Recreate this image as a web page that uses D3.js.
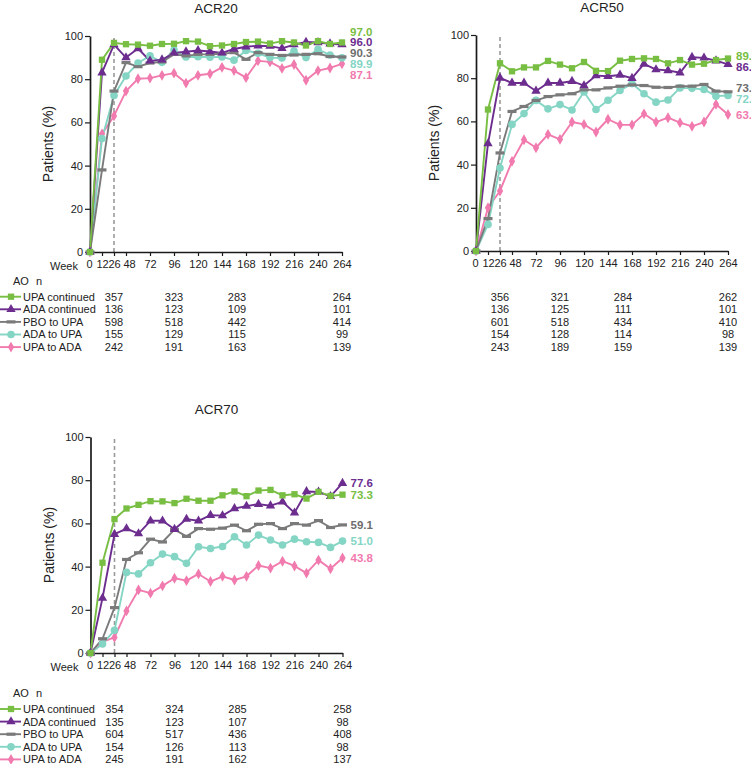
<!DOCTYPE html>
<html><head><meta charset="utf-8">
<script src="https://cdn.jsdelivr.net/npm/d3@7"></script>
<style>body{margin:0;background:#fff} svg{display:block;font-family:"Liberation Sans",Arial,sans-serif}</style>
</head><body><div id="c"></div>
<script>
// ---------- data ----------
const weeks = [0,12,26,48,60,72,84,96,108,120,132,144,156,168,180,192,204,216,228,240,252,264];
const tickWeeks = [0,12,26,48,72,96,120,144,168,192,216,240,264];
const yTicks = [0,20,40,60,80,100];
const seriesNames = ["UPA continued","ADA continued","PBO to UPA","ADA to UPA","UPA to ADA"];
const seriesColors = ["#78be43","#6c2d8f","#7a7a7a","#85d5c5","#f17aae"];
const seriesShapes = ["square","triangle","dash","circle","diamond"];
const nWeeks = [26,96,159,264];

// ACR20
const upaC20 = [0,89.0,96.8,96.2,96.0,95.5,96.3,96.4,97.6,97.4,95.3,95.6,96.3,97.2,97.4,96.5,97.6,97.0,95.6,97.6,96.3,97.0];
const adaC20 = [0,83.0,96.0,90.0,94.2,88.5,89.0,92.2,92.7,93.3,92.8,92.2,94.0,95.0,95.5,95.3,94.3,96.0,97.2,97.0,96.4,96.0];
const pbo20  = [0,38.0,74.5,87.7,85.8,87.5,88.0,91.5,90.8,91.5,91.5,91.8,92.3,89.2,92.3,91.5,91.0,91.2,91.5,91.8,90.5,90.3];
const adaU20 = [0,52.5,72.5,81.5,87.5,90.8,87.8,93.5,90.3,90.4,90.2,90.3,88.8,93.3,92.0,90.0,89.8,93.0,90.0,93.8,91.2,89.9];
const upaA20 = [0,54.7,63.0,74.5,80.2,80.5,81.8,82.8,78.2,81.8,82.5,85.5,84.0,80.7,88.5,88.0,85.0,86.8,79.5,84.0,85.2,87.1];
const end20 = ["97.0","96.0","90.3","89.9","87.1"];
const n20 = [[357,323,283,264],[136,123,109,101],[598,518,442,414],[155,129,115,99],[242,191,163,139]];

// ACR50
const upaC50 = [0,65.5,86.9,83.2,85.0,85.0,88.0,86.3,84.6,87.5,83.4,83.3,88.1,88.9,89.2,88.9,86.9,88.4,86.3,86.7,88.4,89.1];
const adaC50 = [0,49.7,80.1,77.8,77.8,74.1,77.8,77.8,78.6,76.6,81.2,80.9,81.5,80.0,86.6,84.0,83.6,82.5,89.7,89.4,88.1,86.4];
const pbo50  = [0,15.0,45.4,64.6,66.9,69.7,71.5,72.3,72.8,74.6,74.6,75.5,76.3,76.9,76.6,75.8,75.7,76.3,76.3,77.1,74.0,73.7];
const adaU50 = [0,12.3,38.4,58.6,63.6,69.7,65.8,67.8,65.3,73.6,65.5,69.8,74.3,77.5,72.8,68.9,69.9,75.5,75.3,74.8,71.7,72.0];
const upaA50 = [0,20.0,27.8,41.5,51.5,47.8,54.0,51.7,59.7,58.6,55.1,61.0,58.4,58.4,63.5,59.7,61.7,59.4,57.7,59.7,67.9,63.2];
const end50 = ["89.1","86.4","73.7","72.0","63.2"];
const n50 = [[356,321,284,262],[136,125,111,101],[601,518,434,410],[154,128,114,98],[243,189,159,139]];

// ACR70
const upaC70 = [0,41.8,62.0,66.9,68.6,70.3,70.2,69.4,71.4,70.5,70.5,73.0,74.8,72.6,75.2,75.5,73.0,73.5,71.5,74.6,72.7,73.3];
const adaC70 = [0,25.4,55.0,57.6,55.3,61.2,61.2,57.3,62.0,61.2,63.8,63.6,66.9,68.0,68.9,68.2,70.0,64.9,74.8,74.6,72.5,78.6];
const pbo70  = [0,6.6,21.0,43.3,46.4,52.7,51.4,57.1,54.0,57.6,57.3,57.8,59.2,56.6,59.6,59.9,57.6,59.9,59.2,61.3,58.1,59.3];
const adaU70 = [0,4.2,10.5,37.3,36.6,41.8,45.8,44.6,41.5,49.2,48.4,49.3,53.8,50.0,54.6,52.3,50.0,52.7,51.5,51.2,48.9,51.8];
const upaA70 = [0,5.1,7.2,19.5,29.2,27.7,31.1,34.6,33.5,36.6,33.1,35.5,33.8,35.5,40.5,39.3,42.5,40.3,37.0,43.0,39.0,44.0];
const end70 = ["73.3","77.6","59.1","51.0","43.8"];
const n70 = [[354,324,285,258],[135,123,107,98],[604,517,436,408],[154,126,113,98],[245,191,162,137]];

// ---------- drawing ----------
const W = 751, H = 764, PW = 252, PH = 216;
const svg = d3.select("#c").append("svg").attr("width", W).attr("height", H);
const x = d3.scalePoint().domain(weeks).range([0, PW]);
const xCol = d3.scaleLinear().domain(weeks).range(weeks.map(w => x(w)));
const y = d3.scaleLinear().domain([0, 100]).range([PH, 0]);

function marker(g, shape, color, cx, cy) {
  if (shape === "dash") {
    g.append("rect").attr("x", cx - 4.5).attr("y", cy - 1.6).attr("width", 9).attr("height", 3.2).attr("fill", color);
    return;
  }
  const t = {square: d3.symbolSquare, triangle: d3.symbolTriangle, circle: d3.symbolCircle, diamond: d3.symbolDiamond}[shape];
  const s = {square: 40, triangle: 38, circle: 46, diamond: 34}[shape];
  g.append("path").attr("d", d3.symbol(t, s)()).attr("transform", `translate(${cx},${cy})`).attr("fill", color);
}

function spread(targets, gap) {
  const order = targets.map((t, i) => i).sort((a, b) => targets[a] - targets[b]);
  let cl = [];
  const start = c => d3.mean(c.ids, (id, k) => targets[id] - k * gap);
  order.forEach(i => {
    cl.push({ids: [i]});
    while (cl.length > 1) {
      const a = cl[cl.length - 2], b = cl[cl.length - 1];
      if (start(a) + a.ids.length * gap > start(b)) {
        cl.splice(cl.length - 2, 2, {ids: a.ids.concat(b.ids)});
      } else break;
    }
  });
  const out = [];
  cl.forEach(c => { const s = start(c); c.ids.forEach((id, k) => out[id] = s + k * gap); });
  return out;
}

function panel(cfg) {
  const g = svg.append("g").attr("transform", `translate(${cfg.ox},${cfg.oy})`);
  g.append("text").attr("x", PW / 2).attr("y", -23).attr("text-anchor", "middle")
    .attr("font-size", 13.5).attr("fill", "#222").text(cfg.title);

  // dashed week 26 line
  g.append("line").attr("x1", x(26)).attr("x2", x(26)).attr("y1", y(0)).attr("y2", y(100))
    .attr("stroke", "#9a9a9a").attr("stroke-width", 1.6).attr("stroke-dasharray", "4,3");

  const ya = g.append("g").call(d3.axisLeft(y).tickValues(yTicks).tickSize(5).tickSizeOuter(0).tickPadding(2));
  const xa = g.append("g").attr("transform", `translate(0,${PH})`)
    .call(d3.axisBottom(x).tickValues(tickWeeks).tickSize(4).tickSizeOuter(0).tickPadding(4));
  [ya, xa].forEach(a => {
    a.select(".domain").attr("stroke", "#1a1a1a").attr("stroke-width", 1.7);
    a.selectAll(".tick line").attr("stroke", "#1a1a1a").attr("stroke-width", 1.2);
    a.selectAll("text").attr("font-size", 11).attr("fill", "#222").attr("font-family", "Liberation Sans, Arial, sans-serif");
  });
  xa.selectAll(".tick text").filter(d => d === 48).attr("dx", 3);
  xa.selectAll(".tick text").filter(d => d === 0).attr("dx", -1);
  g.append("text").attr("transform", `translate(-37,${PH / 2}) rotate(-90)`).attr("text-anchor", "middle")
    .attr("font-size", 14).attr("fill", "#222").text("Patients (%)");
  if (cfg.week) {
    g.append("text").attr("x", -26).attr("y", PH + 18).attr("text-anchor", "middle")
      .attr("font-size", 11).attr("fill", "#222").text("Week");
  }

  const line = d3.line().x((d, i) => x(weeks[i])).y(d => y(d));
  const order = [4, 3, 2, 1, 0];
  order.forEach(s => {
    const data = cfg.series[s];
    g.append("path").datum(data).attr("d", line).attr("fill", "none")
      .attr("stroke", seriesColors[s]).attr("stroke-width", 1.9).attr("stroke-linejoin", "round");
  });
  order.forEach(s => {
    const mg = g.append("g");
    cfg.series[s].forEach((v, i) => marker(mg, seriesShapes[s], seriesColors[s], x(weeks[i]), y(v)));
  });

  // end labels
  const pos = spread(cfg.series.map(d => y(d[d.length - 1])), 10.8);
  cfg.ends.forEach((t, s) => {
    g.append("text").attr("x", PW + 8).attr("y", pos[s]).attr("dy", "0.36em")
      .attr("font-size", 11.5).attr("font-weight", "bold")
      .attr("fill", s === 2 ? "#6d6d6d" : seriesColors[s]).text(t);
  });

  // n table
  const tY = cfg.tableY - cfg.oy;
  if (cfg.legend) {
    g.append("text").attr("x", 13 - cfg.ox).attr("y", tY).attr("dy", "0.36em").attr("font-size", 11).attr("fill", "#222").text("AO");
    g.append("text").attr("x", 36 - cfg.ox).attr("y", tY).attr("dy", "0.36em").attr("font-size", 11).attr("fill", "#222").text("n");
  }
  seriesNames.forEach((nm, s) => {
    const ry = tY + 15.7 + s * 12.6;
    if (cfg.legend) {
      g.append("line").attr("x1", 0 - cfg.ox).attr("x2", 21 - cfg.ox).attr("y1", ry).attr("y2", ry)
        .attr("stroke", seriesColors[s]).attr("stroke-width", 1.9);
      marker(g, seriesShapes[s], seriesColors[s], 11 - cfg.ox, ry);
      g.append("text").attr("x", 23 - cfg.ox).attr("y", ry).attr("dy", "0.36em")
        .attr("font-size", 11).attr("fill", "#222").text(nm);
    }
    cfg.n[s].forEach((v, k) => {
      g.append("text").attr("x", xCol(nWeeks[k])).attr("y", ry).attr("dy", "0.36em")
        .attr("text-anchor", "middle").attr("font-size", 11).attr("fill", "#222").text(v);
    });
  });
}

panel({ox: 90, oy: 36, title: "ACR20", series: [upaC20, adaC20, pbo20, adaU20, upaA20], ends: end20, n: n20, week: true, legend: true, tableY: 281});
panel({ox: 476, oy: 35, title: "ACR50", series: [upaC50, adaC50, pbo50, adaU50, upaA50], ends: end50, n: n50, week: false, legend: false, tableY: 281});
panel({ox: 90.5, oy: 437, title: "ACR70", series: [upaC70, adaC70, pbo70, adaU70, upaA70], ends: end70, n: n70, week: true, legend: true, tableY: 693.3});
</script>
</body></html>
